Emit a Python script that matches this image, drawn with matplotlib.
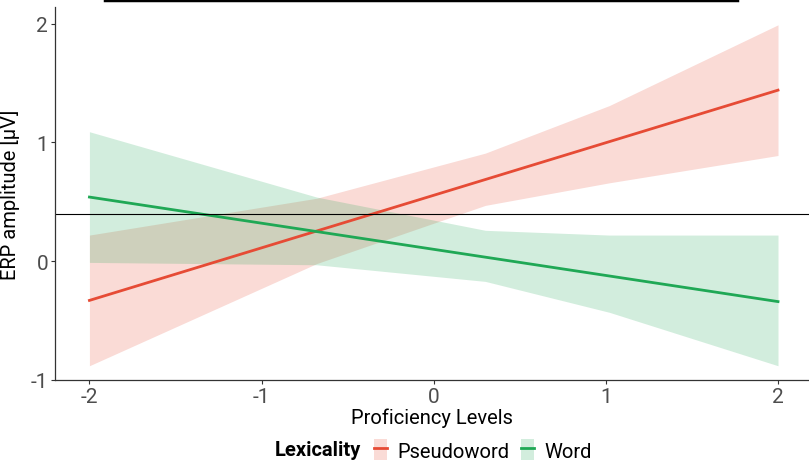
import matplotlib
matplotlib.use('Agg')
import matplotlib.pyplot as plt
from matplotlib.lines import Line2D
from matplotlib.patches import Patch

plt.rcParams['font.family'] = ['Roboto', 'DejaVu Sans']
plt.rcParams['axes.unicode_minus'] = False

# proficiency grid where the effect ribbons were evaluated
prof = [-2, -0.68, 0.3, 1.02, 2]

pseudo_fit = [-0.33, 0.255, 0.69, 1.01, 1.44]
pseudo_low = [-0.88, -0.02, 0.47, 0.66, 0.89]
pseudo_high = [0.22, 0.53, 0.91, 1.31, 1.99]

word_fit = [0.54, 0.25, 0.03, -0.13, -0.34]
word_low = [-0.01, -0.03, -0.17, -0.43, -0.88]
word_high = [1.09, 0.54, 0.26, 0.22, 0.22]

groups = ['Pseudoword', 'Word']
colors = ['#E64B35', '#1FA855']
ref_line = 0.4

fig = plt.figure(figsize=(8.09, 4.64), dpi=100)
ax = fig.add_axes([55 / 809, 1 - 381 / 464, 754 / 809, 373 / 464])

series = [(pseudo_fit, pseudo_low, pseudo_high), (word_fit, word_low, word_high)]
for (fit, low, high), col in zip(series, colors):
    ax.fill_between(prof, low, high, color=col, alpha=0.2, linewidth=0)
for (fit, low, high), col in zip(series, colors):
    ax.plot([prof[0], prof[-1]], [fit[0], fit[-1]], color=col, linewidth=2)

ax.axhline(ref_line, color='black', linewidth=0.8)

ax.set_xlim(-2.2, 2.18)
ax.set_ylim(-1.0, 2.14)
ax.set_xticks([-2, -1, 0, 1, 2])
ax.set_yticks([-1, 0, 1, 2])
ax.tick_params(labelsize=15, colors='#333333', labelcolor='#4D4D4D', length=3, width=0.8, pad=2)
for s in ['top', 'right']:
    ax.spines[s].set_visible(False)
for s in ['left', 'bottom']:
    ax.spines[s].set_color('#333333')
    ax.spines[s].set_linewidth(0.9)

ax.set_xlabel('Proficiency Levels', fontsize=14.5, labelpad=1)
ax.set_ylabel('ERP amplitude [μV]', fontsize=14.5)
ax.yaxis.set_label_coords(-35 / 754, 0.5)

handles = [(Patch(facecolor=c, alpha=0.2, edgecolor='none'), Line2D([], [], color=c, linewidth=2))
           for c in colors]
fig.legend(handles, groups, loc='center left', bbox_to_anchor=(374 / 809, 1 - 451 / 464),
           ncol=2, frameon=False, fontsize=14.5, borderpad=0, borderaxespad=0,
           handlelength=0.65, handleheight=1.2, handletextpad=0.5, columnspacing=0.6)
fig.text(275 / 809, 1 - 451 / 464, 'Lexicality', fontsize=14.5, fontweight='bold', va='center', ha='left')

# bottom edge of the clipped title box above the panel
fig.add_artist(Line2D([105 / 809, 737 / 809], [1 - 1 / 464, 1 - 1 / 464], color='black', linewidth=2.5))

fig.savefig('out.png', dpi=100)
